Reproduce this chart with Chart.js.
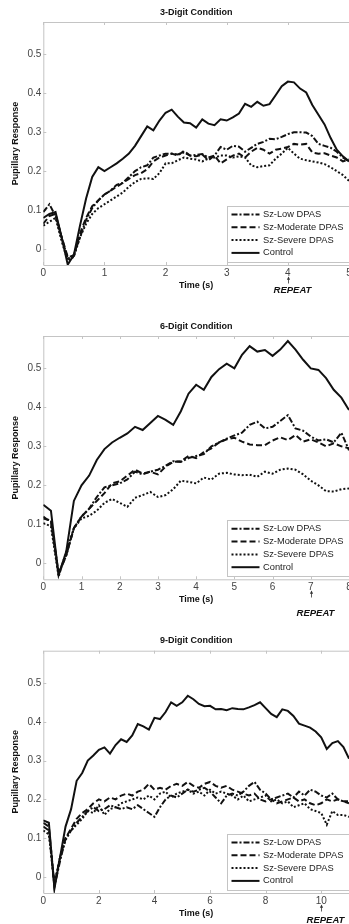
<!DOCTYPE html>
<html>
<head>
<meta charset="utf-8">
<script src="https://cdn.jsdelivr.net/npm/chart.js@4.4.1/dist/chart.umd.min.js"></script>
<style>
  html, body { margin: 0; padding: 0; background: #fff; overflow: hidden; }
  body { width: 349px; height: 924px; position: relative; }
  canvas { position: absolute; left: 0; }
</style>
</head>
<body>
<canvas id="c3" width="370" height="300" style="top:0px"></canvas>
<canvas id="c6" width="370" height="320" style="top:300px"></canvas>
<canvas id="c9" width="370" height="304" style="top:620px"></canvas>
<script>
const FONT = '"Liberation Sans", Arial, sans-serif'

const yTicks = [0, 0.1, 0.2, 0.3, 0.4, 0.5]
const seriesNames = ['Sz-Low DPAS', 'Sz-Moderate DPAS', 'Sz-Severe DPAS', 'Control']

// 3-digit condition
const time3 = [0,0.1,0.2,0.3,0.4,0.5,0.6,0.7,0.8,0.9,1,1.1,1.2,1.3,1.4,1.5,1.6,1.7,1.8,1.9,2,2.1,2.2,2.3,2.4,2.5,2.6,2.7,2.8,2.9,3,3.1,3.2,3.3,3.4,3.5,3.6,3.7,3.8,3.9,4,4.1,4.2,4.3,4.4,4.5,4.6,4.7,4.8,4.9,5]
const low3 = [0.095,0.115,0.085,0.03,-0.025,-0.015,0.03,0.075,0.105,0.125, 0.14,0.15,0.165,0.17,0.185,0.2,0.21,0.215,0.235,0.24, 0.245,0.245,0.243,0.248,0.24,0.242,0.244,0.235,0.24,0.262, 0.255,0.265,0.263,0.25,0.26,0.27,0.275,0.283,0.282,0.288, 0.295,0.3,0.3,0.299,0.29,0.27,0.265,0.26,0.25,0.235, 0.225]
const mod3 = [0.065,0.085,0.09,0.03,-0.02,-0.018,0.04,0.08,0.11,0.125, 0.14,0.15,0.16,0.17,0.18,0.19,0.195,0.205,0.225,0.235, 0.24,0.245,0.24,0.252,0.24,0.238,0.243,0.228,0.24,0.22, 0.23,0.24,0.245,0.235,0.25,0.26,0.255,0.245,0.255,0.258, 0.262,0.27,0.268,0.27,0.248,0.245,0.246,0.24,0.235,0.225, 0.23]
const sev3 = [0.06,0.07,0.08,0.02,-0.03,-0.02,0.03,0.065,0.09,0.105, 0.115,0.125,0.135,0.145,0.16,0.172,0.18,0.182,0.18,0.195, 0.22,0.22,0.228,0.235,0.232,0.23,0.225,0.232,0.235,0.24, 0.24,0.235,0.238,0.235,0.215,0.21,0.213,0.215,0.232,0.245, 0.26,0.245,0.232,0.228,0.225,0.222,0.218,0.21,0.2,0.19, 0.175]
const ctrl3 = [0.08,0.09,0.095,0.03,-0.04,-0.015,0.06,0.13,0.185,0.21, 0.2,0.21,0.22,0.232,0.245,0.265,0.29,0.315,0.305,0.33, 0.35,0.358,0.34,0.325,0.323,0.312,0.333,0.322,0.318,0.333, 0.33,0.338,0.348,0.373,0.365,0.378,0.368,0.372,0.395,0.418, 0.43,0.428,0.412,0.402,0.37,0.345,0.32,0.285,0.255,0.238, 0.225]

// 6-digit condition
const time6 = [0,0.2,0.4,0.6,0.8,1,1.2,1.4,1.6,1.8,2,2.2,2.4,2.6,2.8,3,3.2,3.4,3.6,3.8,4,4.2,4.4,4.6,4.8,5,5.2,5.4,5.6,5.8,6,6.2,6.4,6.6,6.8,7,7.2,7.4,7.6,7.8,8]
const low6 = [0.115,0.11,-0.025,0.02,0.09,0.12,0.14,0.17,0.195,0.2, 0.205,0.215,0.235,0.228,0.235,0.24,0.25,0.262,0.26,0.27, 0.275,0.28,0.3,0.31,0.32,0.328,0.335,0.355,0.363,0.346, 0.35,0.365,0.38,0.346,0.34,0.325,0.315,0.318,0.31,0.335, 0.29]
const mod6 = [0.12,0.105,-0.028,0.02,0.09,0.12,0.14,0.16,0.18,0.205, 0.21,0.225,0.24,0.23,0.235,0.228,0.248,0.26,0.262,0.275, 0.27,0.285,0.295,0.31,0.318,0.322,0.312,0.305,0.303,0.303, 0.315,0.323,0.316,0.329,0.312,0.318,0.31,0.3,0.308,0.3, 0.295]
const sev6 = [0.103,0.095,-0.034,0.03,0.09,0.115,0.122,0.135,0.155,0.165, 0.155,0.145,0.168,0.175,0.183,0.17,0.175,0.19,0.212,0.209, 0.205,0.22,0.215,0.23,0.232,0.228,0.226,0.227,0.222,0.235, 0.23,0.24,0.243,0.24,0.228,0.212,0.2,0.185,0.184,0.19, 0.192]
const ctrl6 = [0.15,0.135,-0.03,0.03,0.16,0.2,0.225,0.265,0.293,0.31, 0.322,0.333,0.35,0.342,0.36,0.378,0.368,0.355,0.39,0.435, 0.458,0.445,0.478,0.498,0.512,0.5,0.535,0.557,0.543,0.547, 0.532,0.548,0.57,0.548,0.522,0.5,0.496,0.475,0.445,0.425, 0.393]

// 9-digit condition
const time9 = [0,0.2,0.4,0.6,0.8,1,1.2,1.4,1.6,1.8,2,2.2,2.4,2.6,2.8,3,3.2,3.4,3.6,3.8,4,4.2,4.4,4.6,4.8,5,5.2,5.4,5.6,5.8,6,6.2,6.4,6.6,6.8,7,7.2,7.4,7.6,7.8,8,8.2,8.4,8.6,8.8,9,9.2,9.4,9.6,9.8,10,10.2,10.4,10.6,10.8,11]
const low9 = [0.13,0.12,-0.025,0.04,0.1,0.12,0.14,0.155,0.17,0.18, 0.17,0.175,0.185,0.18,0.175,0.18,0.175,0.185,0.175,0.165, 0.155,0.18,0.2,0.21,0.205,0.215,0.225,0.22,0.225,0.23, 0.22,0.205,0.19,0.21,0.215,0.21,0.22,0.235,0.245,0.225, 0.215,0.2,0.205,0.21,0.215,0.205,0.22,0.21,0.225,0.22, 0.21,0.205,0.215,0.2,0.195,0.19]
const mod9 = [0.14,0.13,-0.02,0.05,0.1,0.125,0.15,0.165,0.175,0.19, 0.2,0.195,0.205,0.2,0.21,0.215,0.21,0.22,0.225,0.24, 0.225,0.23,0.225,0.235,0.24,0.235,0.245,0.235,0.23,0.24, 0.245,0.235,0.23,0.235,0.225,0.22,0.215,0.21,0.215,0.2, 0.195,0.2,0.19,0.195,0.2,0.205,0.195,0.2,0.19,0.185, 0.19,0.2,0.195,0.2,0.195,0.195]
const sev9 = [0.12,0.11,-0.015,0.05,0.095,0.12,0.135,0.15,0.17,0.165, 0.185,0.16,0.175,0.18,0.19,0.195,0.2,0.205,0.2,0.21, 0.2,0.215,0.22,0.205,0.215,0.22,0.225,0.215,0.22,0.21, 0.225,0.215,0.22,0.215,0.21,0.2,0.21,0.195,0.2,0.205, 0.21,0.195,0.2,0.19,0.195,0.18,0.185,0.19,0.175,0.17, 0.165,0.135,0.17,0.16,0.16,0.155]
const ctrl9 = [0.146,0.14,-0.03,0.05,0.13,0.175,0.248,0.268,0.3,0.313, 0.328,0.334,0.318,0.34,0.355,0.348,0.365,0.394,0.388,0.38, 0.41,0.407,0.425,0.45,0.441,0.45,0.467,0.458,0.446,0.44, 0.441,0.432,0.433,0.43,0.435,0.433,0.432,0.437,0.443,0.45, 0.435,0.42,0.412,0.432,0.428,0.415,0.395,0.39,0.385,0.375, 0.36,0.33,0.345,0.35,0.335,0.305]

const dashes = [[6, 2, 2, 2], [6, 3], [2, 2], []]

// frame, inward ticks, boxed legend and the REPEAT marker
const framePlugin = {
  id: 'frame',
  beforeDatasetsDraw(chart, args, o) {
    const {ctx, chartArea: a, scales: {x, y}} = chart
    ctx.save()
    ctx.strokeStyle = '#c4c4c4'
    ctx.lineWidth = 1
    ctx.beginPath()
    ctx.moveTo(a.right + 2, a.top + 0.5)
    ctx.lineTo(a.left + 0.5, a.top + 0.5)
    ctx.lineTo(a.left + 0.5, a.bottom + 0.5)
    ctx.lineTo(a.right + 2, a.bottom + 0.5)
    o.xTicks.forEach(v => {
      const px = Math.round(x.getPixelForValue(v)) + 0.5
      ctx.moveTo(px, a.top); ctx.lineTo(px, a.top + 3)
      ctx.moveTo(px, a.bottom); ctx.lineTo(px, a.bottom - 3)
    })
    yTicks.forEach(v => {
      const py = Math.round(y.getPixelForValue(v)) + 0.5
      ctx.moveTo(a.left, py); ctx.lineTo(a.left + 3, py)
    })
    ctx.stroke()
    ctx.restore()
  },
  afterDatasetsDraw(chart, args, o) {
    const {ctx, chartArea: a, scales: {x}} = chart
    ctx.save()
    // legend box
    const bottom = a.bottom - 3.5
    const top = bottom - 56
    const left = 227.5
    ctx.fillStyle = '#fff'
    ctx.fillRect(left, top, a.right + 5 - left, bottom - top)
    ctx.strokeStyle = '#c4c4c4'
    ctx.lineWidth = 1
    ctx.strokeRect(left, Math.round(top) + 0.5, a.right + 5 - left, Math.round(bottom - top))
    ctx.font = '9.3px ' + FONT
    ctx.textBaseline = 'middle'
    ctx.textAlign = 'left'
    chart.data.datasets.forEach((ds, i) => {
      const ry = top + 9 + i * 12.8
      ctx.strokeStyle = '#111'
      ctx.lineWidth = 2
      ctx.setLineDash(ds.borderDash)
      ctx.beginPath()
      ctx.moveTo(231.5, ry); ctx.lineTo(259.5, ry)
      ctx.stroke()
      ctx.setLineDash([])
      ctx.fillStyle = '#222'
      ctx.fillText(ds.label, 263, ry)
    })
    // REPEAT arrow
    const rx = Math.round(x.getPixelForValue(o.repeatAt)) + 0.5
    ctx.strokeStyle = '#333'
    ctx.lineWidth = 0.8
    ctx.beginPath()
    ctx.moveTo(rx, o.arrowBottom); ctx.lineTo(rx, o.arrowTop)
    ctx.stroke()
    ctx.fillStyle = '#333'
    ctx.beginPath()
    ctx.moveTo(rx, o.arrowTop - 1); ctx.lineTo(rx - 1.6, o.arrowTop + 2.2); ctx.lineTo(rx + 1.6, o.arrowTop + 2.2)
    ctx.closePath()
    ctx.fill()
    ctx.fillStyle = '#111'
    ctx.font = 'italic bold 9.5px ' + FONT
    ctx.textAlign = 'center'
    ctx.fillText('REPEAT', rx + 4, o.repeatY)
    ctx.restore()
  }
}

function buildPanel(id, p) {
  const canvas = document.getElementById(id)
  const lh = 9 * 1.2
  const titlePadTop = p.titleY - p.top - lh / 2
  const titlePadBottom = p.areaTop - p.top - titlePadTop - lh
  const axisH = 26
  const scaleBottom = p.areaBottom - p.top + axisH
  const padBottom = canvas.height - scaleBottom
  const xTitlePad = scaleBottom - lh / 2 - (p.xTitleY - p.top)
  const titleFont = {family: FONT, size: 9, weight: 'bold'}
  const tickFont = {family: FONT, size: 10}

  return new Chart(canvas, {
    type: 'line',
    data: {
      datasets: p.series.map((vals, i) => ({
        label: seriesNames[i],
        data: p.time.map((t, k) => ({x: t, y: vals[k]})),
        borderColor: '#111',
        borderWidth: 2,
        borderDash: dashes[i],
        pointRadius: 0,
        tension: 0,
        fill: false
      }))
    },
    options: {
      responsive: false,
      animation: false,
      devicePixelRatio: 1,
      layout: {padding: {left: 0, top: 0, right: canvas.width - 349, bottom: padBottom}},
      plugins: {
        legend: {display: false},
        tooltip: {enabled: false},
        title: {
          display: true, text: p.title, fullSize: false, color: '#111',
          font: titleFont, padding: {top: titlePadTop, bottom: titlePadBottom}
        },
        frame: {
          xTicks: p.xTicks,
          repeatAt: p.repeatAt,
          arrowTop: p.arrowTop - p.top,
          arrowBottom: p.arrowBottom - p.top,
          repeatY: p.repeatY - p.top
        }
      },
      scales: {
        x: {
          type: 'linear', min: 0, max: p.xMax,
          afterFit: s => { s.height = axisH },
          afterBuildTicks: s => { s.ticks = p.xTicks.map(v => ({value: v})) },
          grid: {display: false, drawTicks: false},
          border: {display: false},
          ticks: {padding: 2, color: '#444', font: tickFont, maxRotation: 0, autoSkip: false, callback: v => String(v)},
          title: {display: true, text: 'Time (s)', color: '#111', font: titleFont, padding: {top: 0, bottom: xTitlePad}}
        },
        y: {
          type: 'linear', min: -0.041, max: 0.583,
          afterFit: s => { s.width = 43.3 },
          afterBuildTicks: s => { s.ticks = yTicks.map(v => ({value: v})) },
          grid: {display: false, drawTicks: false},
          border: {display: false},
          ticks: {padding: 2, color: '#444', font: tickFont, callback: v => String(+v.toFixed(1))},
          title: {display: true, text: 'Pupillary Response', color: '#111', font: titleFont, padding: {top: 10.6, bottom: 0}}
        }
      }
    },
    plugins: [framePlugin]
  })
}

buildPanel('c3', {
  title: '3-Digit Condition', top: 0, titleY: 12.7, areaTop: 22, areaBottom: 265, xTitleY: 286,
  time: time3, series: [low3, mod3, sev3, ctrl3], xMax: 5, xTicks: [0, 1, 2, 3, 4, 5],
  repeatAt: 4, arrowTop: 277.5, arrowBottom: 283.5, repeatY: 290
})
buildPanel('c6', {
  title: '6-Digit Condition', top: 300, titleY: 326.7, areaTop: 336, areaBottom: 579.3, xTitleY: 599.3,
  time: time6, series: [low6, mod6, sev6, ctrl6], xMax: 8, xTicks: [0, 1, 2, 3, 4, 5, 6, 7, 8],
  repeatAt: 7, arrowTop: 591.5, arrowBottom: 597.5, repeatY: 613.3
})
buildPanel('c9', {
  title: '9-Digit Condition', top: 620, titleY: 640.7, areaTop: 650.7, areaBottom: 893, xTitleY: 913.3,
  time: time9, series: [low9, mod9, sev9, ctrl9], xMax: 11, xTicks: [0, 2, 4, 6, 8, 10],
  repeatAt: 10, arrowTop: 905.5, arrowBottom: 911.5, repeatY: 920
})
</script>
</body>
</html>
